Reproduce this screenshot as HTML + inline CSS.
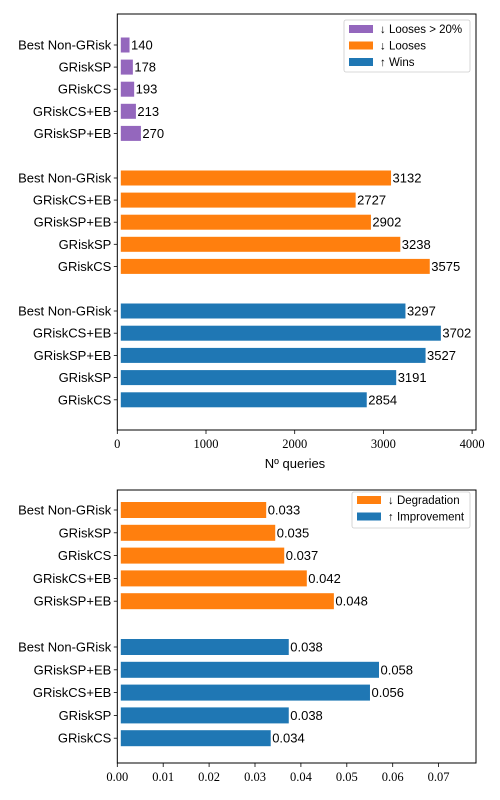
<!DOCTYPE html>
<html><head><meta charset="utf-8">
<style>
body{margin:0;background:#fff;width:500px;height:800px;overflow:hidden}
svg{display:block}
.lab{font-family:"Liberation Sans",sans-serif;font-size:13px;fill:#000}
.tick{font-family:"Liberation Serif",serif;font-size:12.5px;fill:#000}
</style></head>
<body>
<svg id="c" width="500" height="800"></svg>
<script>
// Top chart data
const topLoose20Cats = ["Best Non-GRisk","GRiskSP","GRiskCS","GRiskCS+EB","GRiskSP+EB"];
const topLoose20Vals = [140,178,193,213,270];
const topLooseCats = ["Best Non-GRisk","GRiskCS+EB","GRiskSP+EB","GRiskSP","GRiskCS"];
const topLooseVals = [3132,2727,2902,3238,3575];
const topWinCats = ["Best Non-GRisk","GRiskCS+EB","GRiskSP+EB","GRiskSP","GRiskCS"];
const topWinVals = [3297,3702,3527,3191,2854];
const topTicks = [0,1000,2000,3000,4000];
// Bottom chart data
const botDegCats = ["Best Non-GRisk","GRiskSP","GRiskCS","GRiskCS+EB","GRiskSP+EB"];
const botDegVals = [0.033,0.035,0.037,0.042,0.048];
const botImpCats = ["Best Non-GRisk","GRiskSP+EB","GRiskCS+EB","GRiskSP","GRiskCS"];
const botImpVals = [0.038,0.058,0.056,0.038,0.034];
const botTicks = [0,0.01,0.02,0.03,0.04,0.05,0.06,0.07];
const botTickLabels = ["0.00","0.01","0.02","0.03","0.04","0.05","0.06","0.07"];

const NS="http://www.w3.org/2000/svg";
const svg=document.getElementById('c');
function mk(tag,attrs,parent){const e=document.createElementNS(NS,tag);for(const k in attrs)e.setAttribute(k,attrs[k]);(parent||svg).appendChild(e);return e;}
function txt(s,attrs){const e=mk('text',attrs);e.textContent=s;return e;}

const X0=117.3;
const xTop=v=>X0+v*0.0887;
const xTopBar=v=>X0+v*0.0874;
const xBot=v=>X0+v*4590;
const xBotBar=v=>X0+v*4512;

function group(cats,vals,y0,step,h,color,xf,fmt,prefix){
  cats.forEach((c,i)=>{
    const y=y0+i*step;
    const r=mk('rect',{x:X0+3.5,y:y-h/2,width:Math.max(0,xf(vals[i])-X0-3.5),height:h,fill:color});
    
    
    const v=txt(fmt(vals[i]),{x:xf(vals[i])+1.5,y:y+4.5,class:'lab'});
    
    
    mk('line',{x1:X0-3.5,x2:X0,y1:y,y2:y,stroke:'#000','stroke-width':0.8});
    const l=txt(c,{x:X0-6,y:y+4.5,class:'lab','text-anchor':'end'});
    
    
  });
}
// Top chart
group(topLoose20Cats,topLoose20Vals,45,22.1,15,'#9467bd',xTopBar,v=>String(v),'loose20');
group(topLooseCats,topLooseVals,178,22.1,15,'#ff7f0e',xTopBar,v=>String(v),'loose');
group(topWinCats,topWinVals,311,22.2,15,'#1f77b4',xTopBar,v=>String(v),'win');
const f1=mk('rect',{x:X0,y:14,width:476-X0,height:430-14,fill:'none',stroke:'#000','stroke-width':1});

topTicks.forEach(t=>{
  mk('line',{x1:xTop(t),x2:xTop(t),y1:430,y2:434,stroke:'#000','stroke-width':0.8});
  const e=txt(String(t),{x:xTop(t),y:448,class:'tick','text-anchor':'middle'});
  
});
const xt=txt('Nº queries',{x:295,y:468,class:'lab','text-anchor':'middle'});


// Top legend
const lg=mk('g',{});

mk('rect',{x:344,y:20,width:126,height:52,rx:2,fill:'#fff',stroke:'#ccc','stroke-width':0.8},lg);
[['#9467bd','↓ Looses > 20%'],['#ff7f0e','↓ Looses'],['#1f77b4','↑ Wins']].forEach((d,i)=>{
  mk('rect',{x:349,y:25+i*16.5,width:24,height:8,fill:d[0]},lg);
  const t=mk('text',{x:380,y:33+i*16.5,class:'lab'},lg);t.textContent=d[1];t.style.fontSize='11.5px';
});

// Bottom chart
group(botDegCats,botDegVals,510,22.8,16,'#ff7f0e',xBotBar,v=>v.toFixed(3),'degradation');
group(botImpCats,botImpVals,647,22.8,16,'#1f77b4',xBotBar,v=>v.toFixed(3),'improvement');
const f2=mk('rect',{x:X0,y:490,width:476-X0,height:763-490,fill:'none',stroke:'#000','stroke-width':1});

botTicks.forEach((t,i)=>{
  mk('line',{x1:xBot(t),x2:xBot(t),y1:763,y2:767,stroke:'#000','stroke-width':0.8});
  const e=txt(botTickLabels[i],{x:xBot(t),y:781,class:'tick','text-anchor':'middle'});
  
});
const lg2=mk('g',{});

mk('rect',{x:352,y:492,width:118,height:36,rx:2,fill:'#fff',stroke:'#ccc','stroke-width':0.8},lg2);
[['#ff7f0e','↓ Degradation'],['#1f77b4','↑ Improvement']].forEach((d,i)=>{
  mk('rect',{x:357,y:496+i*16.5,width:24,height:8,fill:d[0]},lg2);
  const t=mk('text',{x:388,y:504+i*16.5,class:'lab'},lg2);t.textContent=d[1];t.style.fontSize='11.5px';
});
</script>
</body></html>
